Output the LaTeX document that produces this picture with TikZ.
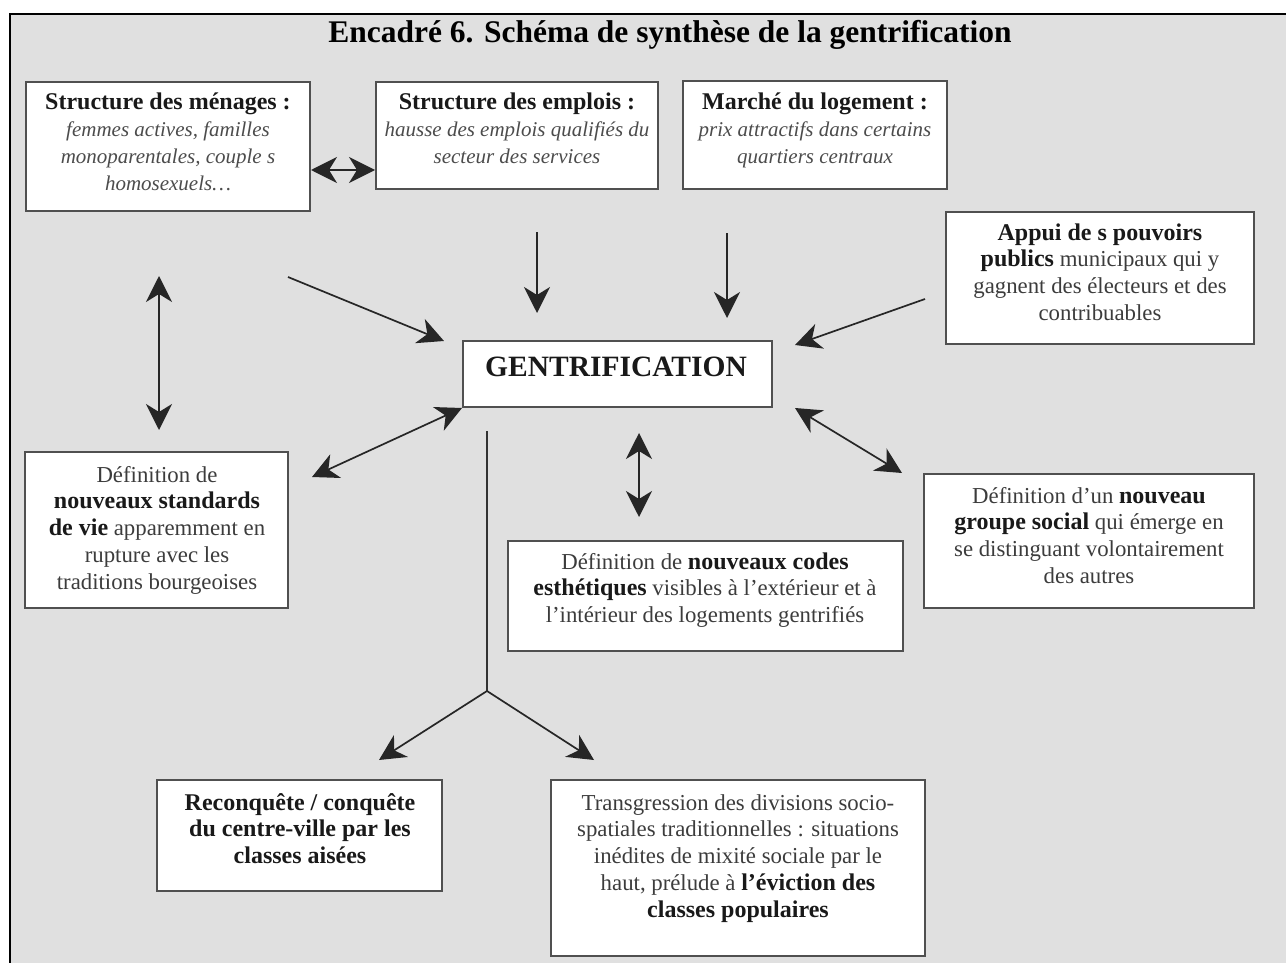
\documentclass[tikz,border=0pt]{standalone}
\usepackage{fontspec}
\usepackage{graphicx}
\setmainfont{Liberation Serif}
\usetikzlibrary{arrows.meta}
\definecolor{bg}{HTML}{E0E0E0}
\definecolor{txtgray}{HTML}{3C3C3C}
\definecolor{itgray}{HTML}{4C4C4C}
\definecolor{boxline}{HTML}{505050}
\newcommand{\bk}[1]{{\fontsize{24}{26.8}\selectfont\bfseries\color{black!90}#1}}
\newcommand{\itx}[1]{{\fontsize{21}{26.8}\selectfont\itshape\color{itgray}#1}}
\newcommand{\mybox}[5]{\node[box, minimum width={#4-#2}, minimum height={#5-#3}] (#1) at ({(#2+#4)/2},{(#3+#5)/2}) {};}
\tikzset{
  box/.style={draw=boxline, line width=2pt, fill=white, inner sep=0pt},
  txt/.style={align=center, inner sep=0pt, anchor=base, text=txtgray, font=\fontsize{22.8}{26.8}\selectfont},
  arr/.style={line width=1.7pt, draw=black!85, -{Stealth[length=26pt,width=26pt,inset=8pt]}},
  darr/.style={line width=1.7pt, draw=black!85, {Stealth[length=26pt,width=26pt,inset=8pt]}-{Stealth[length=26pt,width=26pt,inset=8pt]}},
  plain/.style={line width=1.6pt, draw=black!80}
}
\begin{document}
\begin{tikzpicture}[x=1pt,y=-1pt]
\useasboundingbox (0,0) rectangle (1286,963);
\fill[white] (0,0) rectangle (1286,963);
\fill[bg] (10,14) rectangle (1286,963);
\draw[line width=2.6pt] (10,963) -- (10,14) -- (1286,14);

% title
\node[anchor=base, inner sep=0pt, font=\fontsize{31.5}{34}\selectfont\bfseries] (title) at (670,43)
  {Encadré 6. Schéma de synthèse de la gentrification};

% boxes
\mybox{b1}{26}{82}{310}{211}
\mybox{b2}{376}{82}{658}{189}
\mybox{b3}{683}{81}{947}{189}
\mybox{b4}{946}{212}{1254}{344}
\mybox{g}{463}{341}{772}{407}
\mybox{b5}{25}{452}{288}{608}
\mybox{b6}{508}{541}{903}{651}
\mybox{b7}{924}{474}{1254}{608}
\mybox{b8}{157}{780}{442}{891}
\mybox{b9}{551}{780}{925}{956}

% texts (anchor = baseline of last line)
\node[txt] (t1) at (168,190.4) {\bk{Structure des ménages :}\\
  \itx{femmes actives, familles}\\
  \itx{monoparentales, couple s}\\
  \itx{homosexuels…}};
\node[txt] (t2) at (517,163.6) {\bk{Structure des emplois :}\\
  \itx{hausse des emplois qualifiés du}\\
  \itx{secteur des services}};
\node[txt] (t3) at (815,163.6) {\bk{Marché du logement :}\\
  \itx{prix attractifs dans certains}\\
  \itx{quartiers centraux}};
\node[txt] (t4) at (1100,320.4) {\bk{Appui de s pouvoirs}\\
  \bk{publics} municipaux qui y\\
  gagnent des électeurs et des\\
  contribuables};
\node[txt, font=\fontsize{29.5}{32}\selectfont\bfseries, text=black!90] (tg) at (616,376) {GENTRIFICATION};
\node[txt] (t5) at (157,589.2) {Définition de\\
  \bk{nouveaux standards}\\
  \bk{de vie} apparemment en\\
  rupture avec les\\
  traditions bourgeoises};
\node[txt] (t6) at (705,622.6) {Définition de \bk{nouveaux codes}\\
  \bk{esthétiques} visibles à l’extérieur et à\\
  l’intérieur des logements gentrifiés};
\node[txt] (t7) at (1089,583.4) {Définition d’un \bk{nouveau}\\
  \bk{groupe social} qui émerge en\\
  se distinguant volontairement\\
  des autres};
\node[txt] (t8) at (300,863.6) {\bk{Reconquête / conquête}\\
  \bk{du centre-ville par les}\\
  \bk{classes aisées}};
\node[txt] (t9) at (738,917.2) {Transgression des divisions socio-\\
  spatiales traditionnelles : situations\\
  inédites de mixité sociale par le\\
  haut, prélude à \bk{l’éviction des}\\
  \bk{classes populaires}};

% connector coordinates
\coordinate (y170) at (0,170);
\coordinate (d2s) at (537,232);
\coordinate (d2e) at (537,313);
\coordinate (d3s) at (727,233);
\coordinate (d3e) at (727,318);
\coordinate (d4s) at (925,299);
\coordinate (d4e) at (795,345);
\coordinate (d1s) at (288,277);
\coordinate (d1e) at (444,341);
\coordinate (v1a) at (159,276);
\coordinate (v1b) at (159,430);
\coordinate (s5a) at (462,408);
\coordinate (s5b) at (312,477);
\coordinate (s6a) at (639,433);
\coordinate (s6b) at (639,517);
\coordinate (s7a) at (795,408);
\coordinate (s7b) at (902,473);
\coordinate (ls) at (487,431);
\coordinate (fork) at (487,691);
\coordinate (f8) at (379,760);
\coordinate (f9) at (594,760);

% connectors
\draw[darr] (b1.east |- y170) -- (b2.west |- y170);
\draw[arr] (d2s) -- (d2e);
\draw[arr] (d3s) -- (d3e);
\draw[arr] (d4s) -- (d4e);
\draw[arr] (d1s) -- (d1e);
\draw[darr] (v1a) -- (v1b);
\draw[darr] (s5a) -- (s5b);
\draw[darr] (s6a) -- (s6b);
\draw[darr] (s7a) -- (s7b);
\draw[plain] (ls) -- (fork);
\draw[arr] (fork) -- (f8);
\draw[arr] (fork) -- (f9);
\end{tikzpicture}
\end{document}
